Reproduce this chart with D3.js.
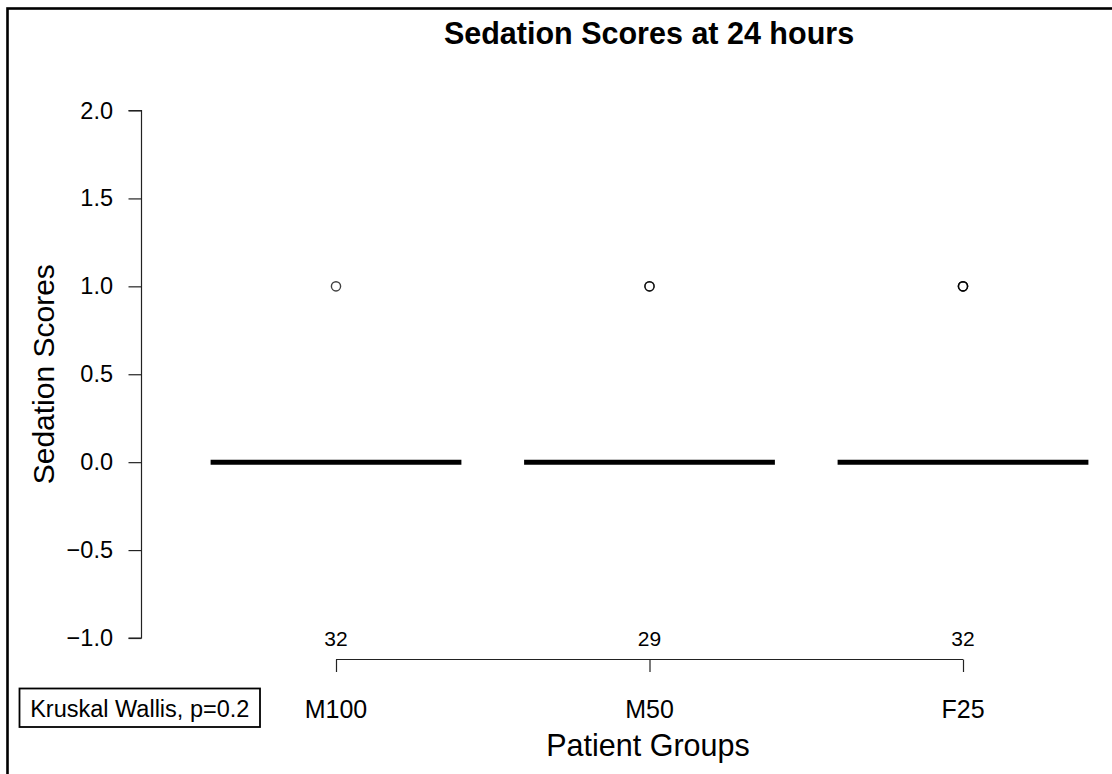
<!DOCTYPE html>
<html>
<head>
<meta charset="utf-8">
<script src="https://cdn.jsdelivr.net/npm/d3@7"></script>
<style>
  html, body { margin: 0; padding: 0; background: #fff; }
  svg { display: block; font-family: "Liberation Sans", Arial, Helvetica, sans-serif; }
</style>
</head>
<body>
<svg id="chart" width="1112" height="774"></svg>
<script>
// ---- data ----
const categories = ["M100", "M50", "F25"];
const medians = [0, 0, 0];
const q1 = [0, 0, 0];
const q3 = [0, 0, 0];
const counts = [32, 29, 32];
const outliers = [[1], [1, 1], [1, 1, 1]];
const yTicks = [-1.0, -0.5, 0.0, 0.5, 1.0, 1.5, 2.0];
const title = "Sedation Scores at 24 hours";
const xLabel = "Patient Groups";
const yLabel = "Sedation Scores";
const testLabel = "Kruskal Wallis, p=0.2";

// ---- layout ----
const svg = d3.select("#chart");

// outer frame (only left/top visible)
svg.append("rect")
  .attr("x", 7.5).attr("y", 8.5)
  .attr("width", 1130).attr("height", 800)
  .attr("fill", "none").attr("stroke", "#000").attr("stroke-width", 2.6);

const y = d3.scaleLinear().domain([-1, 2]).range([638, 110.5]);
const x = d3.scalePoint().domain(categories).range([336, 963]);
const spacing = x.step();
const boxW = spacing * 0.8;

// y axis
const yAxis = d3.axisLeft(y).tickValues(yTicks).tickSize(13).tickPadding(15.5)
  .tickFormat(d3.format(".1f"));
const gy = svg.append("g").attr("transform", "translate(141.5,0)").call(yAxis);
gy.select(".domain").attr("d", `M-13,${y(-1)}H0V${y(2)}H-13`).attr("stroke", "#222").attr("stroke-width", 1.2);
gy.selectAll(".tick line").attr("stroke", "#222").attr("stroke-width", 1.2);
gy.selectAll(".tick text")
  .style("font-size", "23.5px").attr("fill", "#000")
  .text(d => d < 0 ? "\u2212" + d3.format(".1f")(-d) : d3.format(".1f")(d));

// x axis
const xAxis = d3.axisBottom(x).tickSize(12.5).tickPadding(0).tickFormat("");
const gx = svg.append("g").attr("transform", "translate(0,659.5)").call(xAxis);
gx.select(".domain").attr("d", `M${x("M100")},0H${x("F25")}`).attr("stroke", "#222").attr("stroke-width", 1.2);
gx.selectAll(".tick line").attr("stroke", "#222").attr("stroke-width", 1.2);

// category labels
svg.append("g").selectAll("text").data(categories).join("text")
  .attr("x", d => x(d)).attr("y", 718)
  .attr("text-anchor", "middle")
  .style("font-size", "25px").attr("fill", "#000")
  .text(d => d);

// counts
svg.append("g").selectAll("text").data(counts).join("text")
  .attr("x", (d, i) => x(categories[i])).attr("y", 646)
  .attr("text-anchor", "middle")
  .style("font-size", "21px").attr("fill", "#000")
  .text(d => d);

// boxes (degenerate: all at 0 → thick median line)
const boxes = svg.append("g");
categories.forEach((c, i) => {
  const cx = x(c);
  boxes.append("rect")
    .attr("x", cx - boxW / 2).attr("y", y(q3[i]))
    .attr("width", boxW).attr("height", Math.max(0, y(q1[i]) - y(q3[i])))
    .attr("fill", "none").attr("stroke", "#000").attr("stroke-width", 1);
  boxes.append("line")
    .attr("x1", cx - boxW / 2).attr("x2", cx + boxW / 2)
    .attr("y1", y(medians[i])).attr("y2", y(medians[i]))
    .attr("stroke", "#000").attr("stroke-width", 5);
  outliers[i].forEach(v => {
    boxes.append("circle")
      .attr("cx", cx).attr("cy", y(v)).attr("r", 4.6)
      .attr("fill", "none").attr("stroke", "#000").attr("stroke-width", 1.4)
      .attr("stroke-opacity", 0.75);
  });
});

// title
svg.append("text")
  .attr("x", 649).attr("y", 44)
  .attr("text-anchor", "middle")
  .style("font-size", "30.5px").style("font-weight", "bold").attr("fill", "#000")
  .text(title);

// axis labels
svg.append("text")
  .attr("x", 648).attr("y", 756)
  .attr("text-anchor", "middle")
  .style("font-size", "30.5px").attr("fill", "#000")
  .text(xLabel);

svg.append("text")
  .attr("transform", `translate(54,${(y(-1) + y(2)) / 2}) rotate(-90)`)
  .attr("text-anchor", "middle")
  .style("font-size", "30px").attr("fill", "#000")
  .text(yLabel);

// test annotation box
const tg = svg.append("g");
tg.append("rect")
  .attr("x", 19.5).attr("y", 688.5).attr("width", 240.5).attr("height", 38.5)
  .attr("fill", "#fff").attr("stroke", "#000").attr("stroke-width", 1.8);
tg.append("text")
  .attr("x", 139.75).attr("y", 716.5)
  .attr("text-anchor", "middle")
  .style("font-size", "23.5px").attr("fill", "#000")
  .text(testLabel);
</script>
</body>
</html>
